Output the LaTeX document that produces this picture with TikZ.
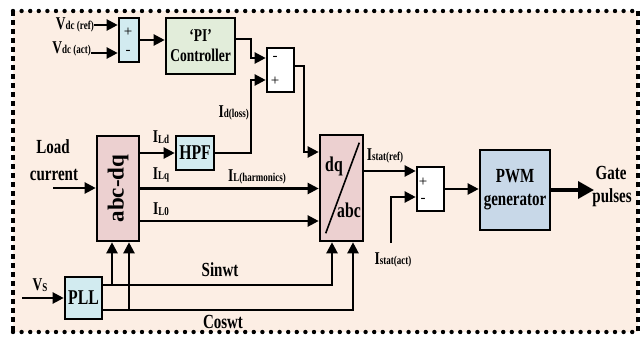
\documentclass[tikz,border=0pt]{standalone}
\usepackage{fontspec}
\setmainfont{Liberation Serif}[FakeStretch=0.75]
\newfontfamily\wideserif{Liberation Serif}
\usetikzlibrary{arrows.meta}
\definecolor{bgc}{HTML}{FCEEE4}
\definecolor{lblue}{HTML}{D2EBF0}
\definecolor{lgreen}{HTML}{E2EDDA}
\definecolor{lpink}{HTML}{ECD0D0}
\definecolor{sblue}{HTML}{C8D8E8}
\newcommand{\sbs}[1]{\raisebox{-0.5pt}{\fontsize{12}{12}\selectfont #1}}
\newcommand{\fsz}[1]{\fontsize{#1}{#1}\selectfont\bfseries}
\begin{document}
\begin{tikzpicture}[x=1pt,y=-1pt,
  box/.style={draw, line width=2.6pt, inner sep=0pt, align=center},
  arr/.style={line width=2.2pt,-{Triangle[length=11pt,width=11pt]}},
  ln/.style={line width=2.2pt},
  lab/.style={inner sep=0pt, align=center, font=\fsz{18}},
  sgn/.style={font=\wideserif\fontsize{15}{15}\selectfont, inner sep=0pt}]
\useasboundingbox (0,0) rectangle (643,338);
% background frame
\fill[bgc] (13,11) rectangle (638,332);
\draw[line width=4.4pt, line cap=round, dash pattern=on 0pt off 8.6pt] (13,11) -- (638,11);
\draw[line width=4.4pt, line cap=round, dash pattern=on 0pt off 8.6pt] (13,332) -- (638,332);
\draw[line width=3.2pt, dash pattern=on 5pt off 4pt] (13,11) -- (13,332);
\draw[line width=3.2pt, dash pattern=on 5pt off 4pt] (638,11) -- (638,332);

% boxes
\node[box, fill=lblue, minimum width=20pt, minimum height=44pt] (sum1) at (129,40) {};
\node[box, fill=lgreen, minimum width=69pt, minimum height=56pt, font=\fsz{18}] (pi) at (200.5,46) {`PI'\\[2pt]Controller};
\node[box, fill=white, minimum width=27pt, minimum height=44pt] (sum2) at (280.5,70) {};
\node[box, fill=lpink, minimum width=42pt, minimum height=105pt] (abcdq) at (118,188.5) {};
\node[box, fill=lblue, minimum width=38pt, minimum height=34pt, font=\fsz{21}] (hpf) at (195,153) {HPF};
\node[box, fill=lpink, minimum width=43pt, minimum height=106pt] (dqabc) at (341.5,188) {};
\node[box, fill=white, minimum width=27pt, minimum height=44pt] (sum3) at (430.5,189) {};
\node[box, fill=sblue, minimum width=70pt, minimum height=80pt, font=\fsz{20}] (pwm) at (515,190) {PWM\\[3pt]generator};
\node[box, fill=lblue, minimum width=37pt, minimum height=42pt, font=\fsz{21}] (pll) at (83.5,298) {PLL};

% box inner texts
\node[lab, rotate=90, font=\wideserif\fsz{23}] (abcdqt) at (abcdq.center) {abc-dq};
\node[lab, font=\fsz{21}] (dqt) at (334,166) {dq};
\node[lab, font=\fsz{21}] (abct) at (349,210) {abc};
\draw[line width=1.6pt] ([shift={(7,-9)}]dqabc.south west) -- ([shift={(-5,9)}]dqabc.north east);
\node[sgn] (s1p) at (128,32) {+};
\node[sgn] (s1m) at (128,52) {-};
\node[sgn] (s2m) at (275,58) {-};
\node[sgn] (s2p) at (275,81) {+};
\node[sgn] (s3p) at (423,182) {+};
\node[sgn] (s3m) at (423,200) {-};

% labels
\node[lab, anchor=east] (vref) at (94,25) {V\sbs{dc (ref)}};
\node[lab, anchor=base east] (vact) at (91,53) {V\sbs{dc (act)}};
\node[lab, font=\fsz{20}] (load) at (53,147) {Load};
\node[lab, font=\fsz{20}] (curr) at (54,175) {current};
\node[lab] (ild) at (161,137) {I\sbs{Ld}};
\node[lab] (ilq) at (161,175) {I\sbs{Lq}};
\node[lab] (il0) at (161,209) {I\sbs{L0}};
\node[lab] (ilh) at (257,177) {I\sbs{L(harmonics)}};
\node[lab, anchor=east] (idl) at (249,113) {I\sbs{d(loss)}};
\node[lab] (isr) at (385,156) {I\sbs{stat(ref)}};
\node[lab] (isa) at (393,260) {I\sbs{stat(act)}};
\node[lab, font=\fsz{20}] (gate) at (611,173) {Gate};
\node[lab, font=\fsz{20}] (puls) at (612,198) {pulses};
\node[lab] (vs) at (40,285) {V\sbs{S}};
\node[lab, font=\fsz{20}] (sinl) at (220,270) {Sinwt};
\node[lab, font=\fsz{20}] (cosl) at (223,322) {Coswt};

% coordinates for free ends
\coordinate (loadin) at (53,188);
\coordinate (vsin) at (22,298);
\coordinate (sact) at (391,243);
\coordinate (gout) at (594,190);
\coordinate (br1) at (112,285);
\coordinate (br2) at (129,310);

% connectors
\draw[arr] (vref.east) -- (vref.east -| sum1.west);
\draw[arr] (vact.base east) -- (vact.base east -| sum1.west);
\draw[arr] (sum1.east) -- (sum1.east -| pi.west);
\draw[arr] ([yshift=7pt]pi.east) -- ++(15,0) |- ([yshift=12pt]sum2.west);
\draw[arr] (hpf.east) -| ([xshift=-15pt,yshift=-10pt]sum2.west) -- ([yshift=-10pt]sum2.west);
\draw[arr] ([yshift=4pt]sum2.east) -- ++(9,0) |- ([yshift=36pt]dqabc.west);
\draw[arr] (loadin) -- (loadin -| abcdq.west);
\draw[arr] (abcdq.east |- hpf.west) -- (hpf.west);
\draw[arr] (abcdq.east) -- (abcdq.east -| dqabc.west);
\draw[arr] ([yshift=-32.5pt]abcdq.east) -- ([yshift=-32.5pt]abcdq.east -| dqabc.west);
\draw[arr] ([yshift=17pt]dqabc.east) -- ([yshift=17pt]dqabc.east -| sum3.west);
\draw[arr] (sact) |- ([yshift=-8pt]sum3.west);
\draw[arr] (sum3.east) -- (sum3.east -| pwm.west);
\draw[line width=3.5pt,-{Triangle[length=16pt,width=17pt]}] (pwm.east) -- (gout);
\draw[arr] (vsin) -- (pll.west);
\draw[arr] ([yshift=13pt]pll.east) -| ([xshift=-9.5pt]dqabc.south);
\draw[arr] ([yshift=-12pt]pll.east) -| ([xshift=11.5pt]dqabc.south);
\draw[arr] (br1) -- (br1 |- abcdq.south);
\draw[arr] (br2) -- (br2 |- abcdq.south);
\end{tikzpicture}
\end{document}
